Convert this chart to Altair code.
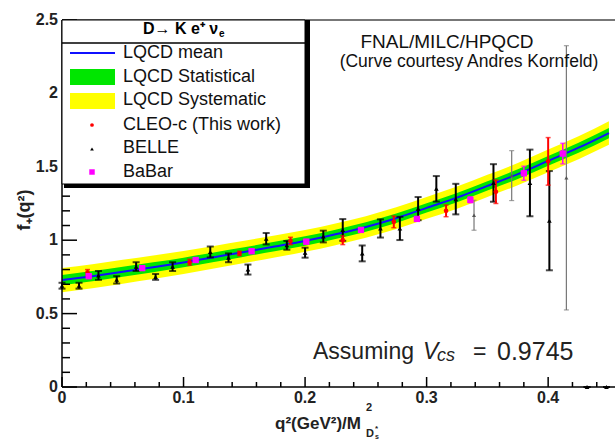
import altair as alt
import pandas as pd

# ---------------- data ----------------
# LQCD curve (central value) and band half-widths
q2_curve = [0.0, 0.025, 0.05, 0.075, 0.1, 0.125, 0.15, 0.175, 0.2, 0.225,
            0.25, 0.275, 0.3, 0.325, 0.35, 0.375, 0.4, 0.425, 0.45]
f_curve = [0.728, 0.755, 0.785, 0.815, 0.848, 0.884, 0.92, 0.957, 0.995, 1.04,
           1.09, 1.15, 1.22, 1.29, 1.37, 1.45, 1.54, 1.63, 1.73]
stat_half = [0.035, 0.035, 0.034, 0.034, 0.033, 0.033, 0.032, 0.032, 0.032, 0.032,
             0.032, 0.032, 0.032, 0.032, 0.032, 0.033, 0.033, 0.034, 0.035]
syst_half = [0.083, 0.082, 0.081, 0.080, 0.078, 0.077, 0.076, 0.075, 0.074, 0.074,
             0.074, 0.074, 0.074, 0.075, 0.075, 0.076, 0.077, 0.078, 0.080]

# BELLE (black)
belle_q2 = [0.000, 0.014, 0.030, 0.045, 0.061, 0.077, 0.091, 0.122, 0.137, 0.153,
            0.168, 0.185, 0.200, 0.215, 0.231, 0.247, 0.262, 0.278, 0.293, 0.308,
            0.324, 0.355, 0.385, 0.401, 0.432, 0.448]
belle_f = [0.69, 0.69, 0.76, 0.73, 0.82, 0.75, 0.82, 0.92, 0.88, 0.80,
           1.01, 0.965, 0.915, 1.025, 1.07, 0.91, 1.08, 1.08, 1.215, 1.35,
           1.28, 1.39, 1.39, 1.133, 0.0, 0.0]
belle_err = [0.02, 0.02, 0.03, 0.025, 0.03, 0.02, 0.03, 0.037, 0.03, 0.034,
             0.039, 0.03, 0.034, 0.04, 0.074, 0.054, 0.062, 0.079, 0.079, 0.087,
             0.104, 0.128, 0.227, 0.338, 0.0, 0.0]

# BELLE points drawn with thin grey bars
belle2_q2 = [0.339, 0.370, 0.415]
belle2_f = [1.17, 1.44, 1.425]
belle2_err = [0.102, 0.17, 0.90]

# CLEO-c (red)
cleo_q2 = [0.021, 0.105, 0.146, 0.188, 0.231, 0.273, 0.316, 0.357, 0.400]
cleo_f = [0.78, 0.85, 0.91, 0.995, 1.00, 1.125, 1.20, 1.33, 1.537]
cleo_err = [0.02, 0.02, 0.015, 0.025, 0.03, 0.04, 0.04, 0.08, 0.162]

# BaBar (magenta)
babar_q2 = [0.022, 0.066, 0.110, 0.156, 0.201, 0.246, 0.292, 0.336, 0.380, 0.412]
babar_f = [0.755, 0.81, 0.865, 0.925, 0.99, 1.07, 1.145, 1.275, 1.456, 1.59]
babar_err = [0.015, 0.015, 0.015, 0.015, 0.015, 0.015, 0.015, 0.02, 0.048, 0.07]

# axis ticks and labels
x_major = [0.0, 0.1, 0.2, 0.3, 0.4]
x_labels = ["0", "0.1", "0.2", "0.3", "0.4"]
x_minor = [0.02, 0.04, 0.06, 0.08, 0.12, 0.14, 0.16, 0.18, 0.22, 0.24, 0.26, 0.28,
           0.32, 0.34, 0.36, 0.38, 0.42, 0.44]
y_major = [0.0, 0.5, 1.0, 1.5, 2.0, 2.5]
y_labels = ["0", "0.5", "1", "1.5", "2", "2.5"]
y_minor = [0.1, 0.2, 0.3, 0.4, 0.6, 0.7, 0.8, 0.9, 1.1, 1.2, 1.3, 1.4, 1.6, 1.7,
           1.8, 1.9, 2.1, 2.2, 2.3, 2.4]

legend_labels = ["LQCD mean", "LQCD Statistical", "LQCD Systematic",
                 "CLEO-c (This work)", "BELLE", "BaBar"]

# ---------------- layout ----------------
OX, OY = 62, 20          # plot origin in page pixels
W, H = 553, 367
FONT = "Liberation Sans"

xs = alt.Scale(domain=[0, 0.455], nice=False, zero=False)
ys = alt.Scale(domain=[0, 2.5], nice=False, zero=False)

curve = pd.DataFrame({"q2": q2_curve, "f": f_curve})
curve["s_lo"] = [c - s for c, s in zip(f_curve, stat_half)]
curve["s_hi"] = [c + s for c, s in zip(f_curve, stat_half)]
curve["y_lo"] = [c - s for c, s in zip(f_curve, syst_half)]
curve["y_hi"] = [c + s for c, s in zip(f_curve, syst_half)]


def pts(q, f, e):
    d = pd.DataFrame({"q2": q, "f": f, "err": e})
    d["lo"] = d["f"] - d["err"]
    d["hi"] = d["f"] + d["err"]
    return d


belle = pts(belle_q2, belle_f, belle_err)
belle2 = pts(belle2_q2, belle2_f, belle2_err)
cleo = pts(cleo_q2, cleo_f, cleo_err)
babar = pts(babar_q2, babar_f, babar_err)

X = alt.X("q2:Q", scale=xs, axis=None)
Y = alt.Y("f:Q", scale=ys, axis=None)

layers = []

# band
layers.append(alt.Chart(curve).mark_area(color="#ffff00", interpolate="monotone").encode(
    x=X, y=alt.Y("y_lo:Q", scale=ys, axis=None), y2="y_hi:Q"))
layers.append(alt.Chart(curve).mark_area(color="#00e600", interpolate="monotone").encode(
    x=X, y=alt.Y("s_lo:Q", scale=ys, axis=None), y2="s_hi:Q"))
layers.append(alt.Chart(curve).mark_line(color="#1010ff", strokeWidth=2, interpolate="monotone").encode(
    x=X, y=Y))


def errbars(d, color, sw, cap, capw):
    bar = alt.Chart(d).mark_rule(color=color, strokeWidth=sw).encode(
        x=X, y=alt.Y("lo:Q", scale=ys, axis=None), y2="hi:Q")
    c1 = alt.Chart(d).mark_tick(color=color, orient="horizontal", size=cap, thickness=capw).encode(
        x=X, y=alt.Y("lo:Q", scale=ys, axis=None))
    c2 = alt.Chart(d).mark_tick(color=color, orient="horizontal", size=cap, thickness=capw).encode(
        x=X, y=alt.Y("hi:Q", scale=ys, axis=None))
    return [bar, c1, c2]


layers += errbars(belle2, "#777777", 1.2, 5, 1.2)
layers += errbars(belle, "black", 2, 7, 2)
layers += errbars(cleo, "#ff0000", 2, 5, 1.5)
layers += errbars(babar, "#ff00ff", 1.5, 5, 1.5)

layers.append(alt.Chart(belle2).mark_point(shape="triangle-up", filled=True, size=16, color="#555", opacity=1).encode(x=X, y=Y))
layers.append(alt.Chart(belle).mark_point(shape="triangle-up", filled=True, size=22, color="black", opacity=1).encode(x=X, y=Y))
layers.append(alt.Chart(cleo).mark_point(shape="circle", filled=True, size=22, color="#ff0000", opacity=1).encode(x=X, y=Y))
layers.append(alt.Chart(babar).mark_point(shape="square", filled=True, size=40, color="#ff00ff", opacity=1).encode(x=X, y=Y))

one = pd.DataFrame({"a": [0]})

# axis lines
layers.append(alt.Chart(one).mark_rule(color="#777777", strokeWidth=2).encode(
    x=alt.value(0), x2=alt.value(W), y=alt.value(0)))
layers.append(alt.Chart(one).mark_rule(color="black", strokeWidth=1.5).encode(
    x=alt.value(0), x2=alt.value(W), y=alt.value(H)))
layers.append(alt.Chart(one).mark_rule(color="black", strokeWidth=1.5).encode(
    x=alt.value(0), y=alt.value(0), y2=alt.value(H)))

# inward ticks
layers.append(alt.Chart(pd.DataFrame({"q2": x_major})).mark_rule(color="black", strokeWidth=1.5).encode(
    x=X, y=alt.value(H), y2=alt.value(H - 10)))
layers.append(alt.Chart(pd.DataFrame({"q2": x_minor})).mark_rule(color="black", strokeWidth=1.5).encode(
    x=X, y=alt.value(H), y2=alt.value(H - 5)))
layers.append(alt.Chart(pd.DataFrame({"f": y_major})).mark_rule(color="black", strokeWidth=1.5).encode(
    y=Y, x=alt.value(0), x2=alt.value(15)))
layers.append(alt.Chart(pd.DataFrame({"f": y_minor})).mark_rule(color="black", strokeWidth=1.5).encode(
    y=Y, x=alt.value(0), x2=alt.value(8)))

# tick labels
layers.append(alt.Chart(pd.DataFrame({"q2": x_major, "lab": x_labels})).mark_text(
    align="center", baseline="top", fontSize=16, fontWeight="bold", font=FONT, color="#222").encode(
    x=X, y=alt.value(H + 3), text="lab:N"))
layers.append(alt.Chart(pd.DataFrame({"f": y_major, "lab": y_labels})).mark_text(
    align="right", baseline="middle", fontSize=16, fontWeight="bold", font=FONT, color="#222").encode(
    y=Y, x=alt.value(-4), text="lab:N"))


def rect(x1, y1, x2, y2, fill, stroke=None, sw=0):
    kw = dict(color=fill)
    if stroke:
        kw.update(stroke=stroke, strokeWidth=sw)
    return alt.Chart(one).mark_rect(**kw).encode(
        x=alt.value(x1 - OX), x2=alt.value(x2 - OX), y=alt.value(y1 - OY), y2=alt.value(y2 - OY))


def txt(s, x, y, size, weight="normal", style="normal", align="left", angle=0, color="black", font=FONT):
    return alt.Chart(pd.DataFrame({"t": [s]})).mark_text(
        align=align, baseline="middle", fontSize=size, fontWeight=weight, fontStyle=style,
        angle=angle, font=font, color=color).encode(
        x=alt.value(x - OX), y=alt.value(y - OY), text="t:N")


# legend box with shadow
layers.append(rect(64, 20, 310, 188, "black"))
layers.append(rect(62, 20, 305, 184, "white", "black", 1))
layers.append(alt.Chart(one).mark_rule(color="black", strokeWidth=1.5).encode(
    x=alt.value(0), x2=alt.value(305 - OX), y=alt.value(43 - OY)))
layers.append(txt("D\u2192 K e\u207a \u03bd", 143, 29, 16, weight="bold"))
layers.append(txt("e", 219, 34, 10, weight="bold"))

layers.append(alt.Chart(one).mark_rule(color="#1010ff", strokeWidth=2).encode(
    x=alt.value(70 - OX), x2=alt.value(115 - OX), y=alt.value(53 - OY)))
layers.append(rect(70, 69, 115, 85, "#00e600"))
layers.append(rect(70, 93, 115, 109, "#ffff00"))
layers.append(alt.Chart(one).mark_point(shape="circle", filled=True, size=14, color="#ff0000", opacity=1).encode(
    x=alt.value(92 - OX), y=alt.value(125 - OY)))
layers.append(alt.Chart(one).mark_point(shape="triangle-up", filled=True, size=14, color="black", opacity=1).encode(
    x=alt.value(92 - OX), y=alt.value(149 - OY)))
layers.append(alt.Chart(one).mark_point(shape="square", filled=True, size=30, color="#ff00ff", opacity=1).encode(
    x=alt.value(92 - OX), y=alt.value(172 - OY)))
for lab, yy in zip(legend_labels, [53, 77, 100, 125, 148, 172]):
    layers.append(txt(lab, 123, yy, 18, color="#111"))

# annotations
layers.append(txt("FNAL/MILC/HPQCD", 447, 42, 19, align="center", color="#111"))
layers.append(txt("(Curve courtesy Andres Kornfeld)", 469, 62, 17.5, align="center", color="#111"))
layers.append(txt("Assuming", 313, 352, 23, color="#222"))
layers.append(txt("V", 423, 352, 23, style="italic", color="#222"))
layers.append(txt("cs", 437, 356, 18, style="italic", color="#222"))
layers.append(txt("=", 473, 352, 23, color="#222"))
layers.append(txt("0.9745", 497, 352, 25, color="#222"))

# axis titles
layers.append(txt("f\u208a(q\u00b2)", 25, 210, 18, weight="bold", align="center", angle=270, color="#222"))
layers.append(txt("q\u00b2(GeV\u00b2)/M", 275, 424, 17, weight="bold", color="#222"))
layers.append(txt("2", 366, 408, 11, weight="bold", color="#222"))
layers.append(txt("D", 366, 434, 11, weight="bold", color="#222"))
layers.append(txt("s", 375, 437, 7, weight="bold", color="#222"))
layers.append(txt("*", 375, 429, 8, weight="bold", color="#222"))

chart = alt.layer(*layers).properties(
    width=W, height=H,
    padding={"left": OX, "top": OY, "right": 615 - OX - W, "bottom": 442 - OY - H},
    autosize=alt.AutoSizeParams(type="none"),
).configure_view(stroke=None)

chart.save("out.html", embed_options={"renderer": "svg", "actions": False})
